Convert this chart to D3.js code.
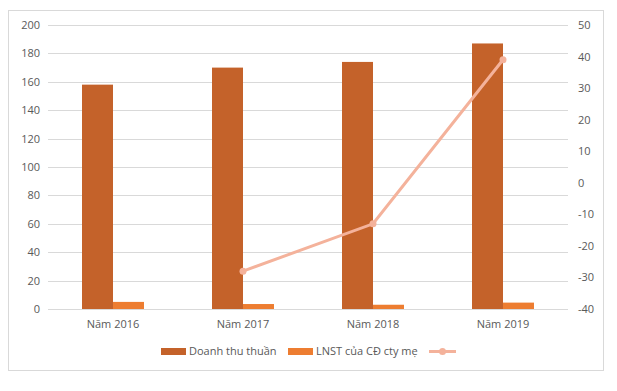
<!DOCTYPE html>
<html>
<head>
<meta charset="utf-8">
<script src="https://cdn.jsdelivr.net/npm/d3@7"></script>
<style>
  body { margin: 0; background: #fff; }
  text { font-family: "Open Sans", "Liberation Sans", sans-serif; fill: #595959; }
</style>
</head>
<body>
<div id="chart"></div>
<script>
// data
var years = ['Năm 2016', 'Năm 2017', 'Năm 2018', 'Năm 2019'];
var doanhThu = [158, 170, 174, 187];
var lnst = [5, 3.5, 3, 4.5];
var lineVals = [null, -28, -13, 39];
var leftTicks = [0, 20, 40, 60, 80, 100, 120, 140, 160, 180, 200];
var rightTicks = [-40, -30, -20, -10, 0, 10, 20, 30, 40, 50];
var seriesNames = ['Doanh thu thuần', 'LNST của CĐ cty mẹ', ''];

var W = 617, H = 391;
var m = { left: 48, right: 568, top: 25, bottom: 309 };

var svg = d3.select('#chart').append('svg')
  .attr('width', W).attr('height', H);

// outer border
svg.append('rect')
  .attr('x', 8.5).attr('y', 10.5)
  .attr('width', 595).attr('height', 360)
  .attr('fill', '#fff').attr('stroke', '#d9d9d9');

var x = d3.scaleBand().domain(years).range([m.left, m.right]);
var yL = d3.scaleLinear().domain([0, 200]).range([m.bottom, m.top]);
var yR = d3.scaleLinear().domain([-40, 50]).range([m.bottom, m.top]);

// gridlines
svg.append('g')
  .selectAll('line')
  .data(leftTicks)
  .enter()
  .append('line')
  .attr('x1', m.left).attr('x2', m.right)
  .attr('y1', d => Math.round(yL(d)) + 0.5)
  .attr('y2', d => Math.round(yL(d)) + 0.5)
  .attr('stroke', '#d9d9d9');

// left axis labels
svg.append('g')
  .selectAll('text')
  .data(leftTicks)
  .enter()
  .append('text')
  .attr('x', 40)
  .attr('y', d => yL(d) + 4)
  .attr('text-anchor', 'end')
  .style('font-size', '11px')
  .text(d => d);

// right axis labels
svg.append('g')
  .selectAll('text')
  .data(rightTicks)
  .enter()
  .append('text')
  .attr('x', 578)
  .attr('y', d => yR(d) + 4)
  .attr('text-anchor', 'start')
  .style('font-size', '11px')
  .text(d => d);

// bars
var barW = 31;
svg.append('g')
  .selectAll('rect')
  .data(doanhThu)
  .enter()
  .append('rect')
  .attr('x', (d, i) => x(years[i]) + x.bandwidth() / 2 - barW)
  .attr('y', d => yL(d))
  .attr('width', barW)
  .attr('height', d => yL(0) - yL(d))
  .attr('fill', '#c4622a');

svg.append('g')
  .selectAll('rect')
  .data(lnst)
  .enter()
  .append('rect')
  .attr('x', (d, i) => x(years[i]) + x.bandwidth() / 2)
  .attr('y', d => yL(d))
  .attr('width', barW)
  .attr('height', d => yL(0) - yL(d))
  .attr('fill', '#ed7d31');

// line on right axis
var pts = lineVals.map((v, i) => ({ k: years[i], v: v })).filter(d => d.v != null);
var line = d3.line()
  .x(d => x(d.k) + x.bandwidth() / 2)
  .y(d => yR(d.v));
svg.append('path')
  .datum(pts)
  .attr('d', line)
  .attr('fill', 'none')
  .attr('stroke', '#f4b29b')
  .attr('stroke-width', 3);
svg.append('g')
  .selectAll('circle')
  .data(pts)
  .enter()
  .append('circle')
  .attr('cx', d => x(d.k) + x.bandwidth() / 2)
  .attr('cy', d => yR(d.v))
  .attr('r', 3.5)
  .attr('fill', '#f4b29b');

// category labels
svg.append('g')
  .selectAll('text')
  .data(years)
  .enter()
  .append('text')
  .attr('x', d => x(d) + x.bandwidth() / 2)
  .attr('y', 328)
  .attr('text-anchor', 'middle')
  .style('font-size', '11px')
  .text(d => d);

// legend
var lg = svg.append('g');
lg.append('rect').attr('x', 161).attr('y', 348).attr('width', 25).attr('height', 7).attr('fill', '#c4622a');
lg.append('text').attr('x', 189).attr('y', 355).style('font-size', '11px').text(seriesNames[0]);
lg.append('rect').attr('x', 288).attr('y', 348).attr('width', 25).attr('height', 7).attr('fill', '#ed7d31');
lg.append('text').attr('x', 316).attr('y', 355).style('font-size', '11px').text(seriesNames[1]);
lg.append('line').attr('x1', 429).attr('x2', 456).attr('y1', 351.5).attr('y2', 351.5)
  .attr('stroke', '#f4b29b').attr('stroke-width', 3);
lg.append('circle').attr('cx', 442.5).attr('cy', 351.5).attr('r', 3.5).attr('fill', '#f4b29b');
</script>
</body>
</html>
